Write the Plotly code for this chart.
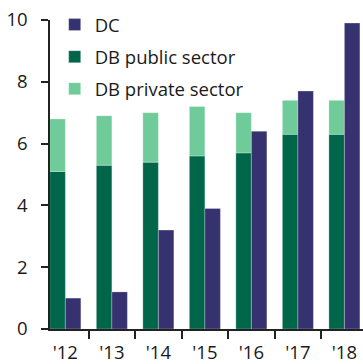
import plotly.graph_objects as go

# Pension fund flows by scheme type, 2012-2018
years = ["'12", "'13", "'14", "'15", "'16", "'17", "'18"]
dc = [1.0, 1.2, 3.2, 3.9, 6.4, 7.7, 9.9]
db_public = [5.1, 5.3, 5.4, 5.6, 5.7, 6.3, 6.3]
db_private = [1.7, 1.6, 1.6, 1.6, 1.3, 1.1, 1.1]

C_DC = "#36316f"
C_PUB = "#00664a"
C_PRIV = "#6fcc9a"
EDGE = dict(color="rgba(255,255,255,0.45)", width=0.6)
FS = 18.5

fig = go.Figure()
# DB stack on the left of each year, DC on the right
fig.add_trace(go.Bar(
    x=years, y=db_public, name="DB public sector",
    marker=dict(color=C_PUB, line=EDGE), offsetgroup="db",
    legendrank=2, legendgroup="pub",
))
fig.add_trace(go.Bar(
    x=years, y=db_private, base=db_public, name="DB private sector",
    marker=dict(color=C_PRIV, line=EDGE), offsetgroup="db",
    legendrank=3, legendgroup="priv",
))
fig.add_trace(go.Bar(
    x=years, y=dc, name="DC", marker=dict(color=C_DC, line=EDGE),
    offsetgroup="dc", legendrank=1, legendgroup="dc",
))

fig.update_layout(
    width=363, height=364,
    margin=dict(l=50, r=0, t=20, b=35),
    paper_bgcolor="white", plot_bgcolor="white",
    barmode="group", bargap=0.333, bargroupgap=0,
    font=dict(family="Open Sans", size=FS, color="#1a1a1a"),
    legend=dict(
        x=0.015, y=1.045, xanchor="left", yanchor="top",
        bgcolor="rgba(0,0,0,0)", traceorder="grouped",
        font=dict(size=FS), itemclick=False, tracegroupgap=5,
    ),
    xaxis=dict(
        range=[-0.33, 6.40], showgrid=False, zeroline=False,
        showline=True, linecolor="#222", linewidth=1.5,
        ticks="outside", tickson="boundaries", ticklen=8,
        tickcolor="#222", tickwidth=1.5, automargin=False,
        ticklabelstandoff=6, tickfont=dict(size=FS),
    ),
    yaxis=dict(
        range=[0, 10], dtick=2, showgrid=False, zeroline=False,
        showline=True, linecolor="#222", linewidth=1.5,
        ticks="outside", ticklen=7, tickcolor="#222", tickwidth=1.5,
        automargin=False, ticklabelstandoff=10, tickfont=dict(size=FS),
    ),
)

fig.write_html("out.html")
